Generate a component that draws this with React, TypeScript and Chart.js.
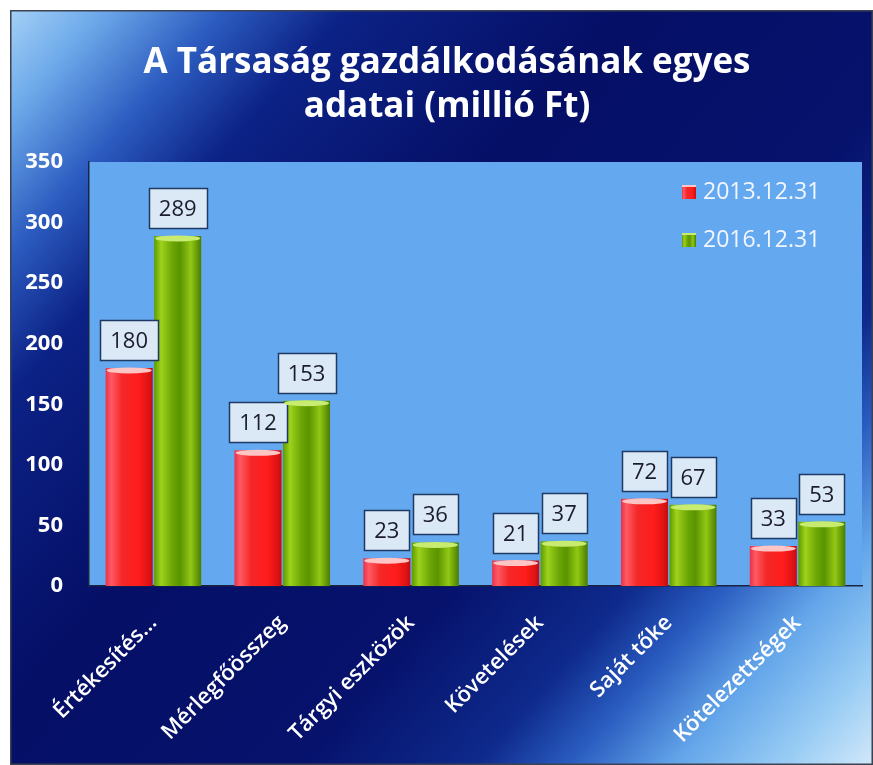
import React, { useEffect, useRef } from 'react';
import { Chart, registerables } from 'chart.js';

Chart.register(...registerables);

const categories = ['Értékesítés...', 'Mérlegfőösszeg', 'Tárgyi eszközök', 'Követelések', 'Saját tőke', 'Kötelezettségek'];
const series2013 = [180, 112, 23, 21, 72, 33];
const series2016 = [289, 153, 36, 37, 67, 53];
const seriesLabels = ['2013.12.31', '2016.12.31'];
const yTicks = [0, 50, 100, 150, 200, 250, 300, 350];
const titleLines = ['A Társaság gazdálkodásának egyes', 'adatai (millió Ft)'];

const W = 863;
const H = 755;
const FONT = '"Open Sans", "DejaVu Sans", sans-serif';

const redStops: [number, string][] = [
  [0, '#e8304a'], [0.12, '#ff5a64'], [0.35, '#f42828'], [0.7, '#ff1c1c'], [0.9, '#e01414'], [1, '#c40a14'],
];
const greenStops: [number, string][] = [
  [0, '#5e9a00'], [0.15, '#9ed21c'], [0.4, '#6aa404'], [0.55, '#5a9400'], [0.78, '#92c814'], [1, '#4a7c00'],
];
const capColors = ['#ffc4c4', '#c8ec70'];

const bgPlugin = {
  id: 'bgPlugin',
  afterLayout(chart: any) {
    const t = chart.titleBlock;
    if (t) {
      t.left += 11;
      t.right += 11;
    }
  },
  beforeDraw(chart: any) {
    const { ctx, width, height, chartArea } = chart;
    ctx.save();
    const g = ctx.createLinearGradient(0, 0, width, height);
    g.addColorStop(0, '#a4d0f6');
    g.addColorStop(0.06, '#6eaaea');
    g.addColorStop(0.14, '#2c5cc0');
    g.addColorStop(0.22, '#0c2286');
    g.addColorStop(0.4, '#050f66');
    g.addColorStop(0.62, '#06126c');
    g.addColorStop(0.74, '#0e2a8c');
    g.addColorStop(0.8, '#2a5cc0');
    g.addColorStop(0.87, '#64a6ea');
    g.addColorStop(0.94, '#98ccf4');
    g.addColorStop(1, '#d2e8fa');
    ctx.fillStyle = g;
    ctx.fillRect(0, 0, width, height);
    ctx.fillStyle = '#64a8f0';
    ctx.fillRect(chartArea.left, chartArea.top, chartArea.right - chartArea.left, chartArea.bottom - chartArea.top);
    ctx.restore();
  },
  beforeDatasetsDraw(chart: any) {
    const ctx = chart.ctx;
    chart.data.datasets.forEach((_ds: any, di: number) => {
      const meta = chart.getDatasetMeta(di);
      const stops = di === 0 ? redStops : greenStops;
      meta.data.forEach((el: any) => {
        const w = el.width;
        const x0 = el.x - w / 2;
        const g = ctx.createLinearGradient(x0, 0, x0 + w, 0);
        stops.forEach(([o, c]) => g.addColorStop(o, c));
        el.options = Object.assign({}, el.options, { backgroundColor: g });
      });
    });
  },
  afterDatasetsDraw(chart: any) {
    const ctx = chart.ctx;
    ctx.save();
    chart.data.datasets.forEach((ds: any, di: number) => {
      const meta = chart.getDatasetMeta(di);
      meta.data.forEach((el: any, i: number) => {
        const w = el.width;
        const x = el.x;
        const y = el.y;
        // cylinder cap
        ctx.beginPath();
        ctx.ellipse(x, y + 2.5, w / 2 - 1, 3, 0, 0, Math.PI * 2);
        ctx.fillStyle = capColors[di];
        ctx.fill();
        // data label box
        const text = String(ds.data[i]);
        ctx.font = `22px ${FONT}`;
        const tw = ctx.measureText(text).width;
        const bw = Math.round(tw + 20);
        const bh = 40;
        const bx = Math.round(x - bw / 2) + 0.5;
        const by = Math.round(y - 8 - bh) + 0.5;
        ctx.fillStyle = '#dbe8f6';
        ctx.fillRect(bx, by, bw, bh);
        ctx.lineWidth = 1.5;
        ctx.strokeStyle = '#1f3a62';
        ctx.strokeRect(bx, by, bw, bh);
        ctx.fillStyle = '#1a1c2e';
        ctx.textAlign = 'center';
        ctx.textBaseline = 'middle';
        ctx.fillText(text, x, by + bh / 2 + 1);
      });
    });
    ctx.restore();
  },
  afterDraw(chart: any) {
    const { ctx, chartArea, width, height } = chart;
    ctx.save();
    seriesLabels.forEach((lab, i) => {
      const cy = chartArea.top + 30 + i * 48;
      const mx = chartArea.right - 180;
      const mw = 14;
      const mh = 14;
      const stops = i === 0 ? redStops : greenStops;
      const g = ctx.createLinearGradient(mx, 0, mx + mw, 0);
      stops.forEach(([o, c]) => g.addColorStop(o, c));
      ctx.fillStyle = g;
      ctx.fillRect(mx, cy - mh / 2, mw, mh);
      ctx.fillStyle = capColors[i];
      ctx.fillRect(mx, cy - mh / 2, mw, 2);
      ctx.font = `23px ${FONT}`;
      ctx.fillStyle = '#f2f6ff';
      ctx.textAlign = 'left';
      ctx.textBaseline = 'middle';
      ctx.fillText(lab, chartArea.right - 159, cy);
    });
    ctx.strokeStyle = '#3c4250';
    ctx.lineWidth = 1.5;
    ctx.strokeRect(0.75, 0.75, width - 1.5, height - 1.5);
    ctx.restore();
  },
};

export default function App() {
  const ref = useRef<HTMLCanvasElement | null>(null);
  useEffect(() => {
    if (!ref.current) return;
    const chart = new Chart(ref.current, {
      type: 'bar',
      data: {
        labels: categories,
        datasets: [
          { label: seriesLabels[0], data: series2013, backgroundColor: '#f02020', borderWidth: 0, barPercentage: 0.97, categoryPercentage: 0.753 },
          { label: seriesLabels[1], data: series2016, backgroundColor: '#80c010', borderWidth: 0, barPercentage: 0.97, categoryPercentage: 0.753 },
        ],
      },
      options: {
        animation: false,
        responsive: false,
        devicePixelRatio: 1,
        layout: { padding: { left: 0, right: 11, top: 0, bottom: 0 } },
        plugins: {
          legend: { display: false },
          tooltip: { enabled: false },
          title: {
            display: true,
            text: titleLines,
            color: '#ffffff',
            font: { family: FONT, size: 35, weight: 'bold', lineHeight: 1.26 },
            padding: { top: 30.5, bottom: 33.3 },
          },
        },
        scales: {
          x: {
            grid: { display: false, drawTicks: false },
            border: { display: true, color: '#1b2440', width: 1.5 },
            ticks: {
              color: '#ffffff',
              font: { family: FONT, size: 22, weight: '600' },
              minRotation: 45,
              maxRotation: 45,
              autoSkip: false,
              padding: 24,
            },
            afterFit: (s: any) => { s.height = 179; },
          },
          y: {
            min: 0,
            max: 350,
            grid: { display: false, drawTicks: false },
            border: { display: true, color: '#1b2440', width: 1.5 },
            ticks: {
              color: '#ffffff',
              font: { family: FONT, size: 22, weight: 'bold' },
              padding: 26,
            },
            afterBuildTicks: (s: any) => { s.ticks = yTicks.map((v) => ({ value: v })); },
            afterFit: (s: any) => { s.width = 79; },
          },
        },
      },
      plugins: [bgPlugin],
    });
    return () => chart.destroy();
  }, []);
  return (
    <div style={{ position: 'fixed', left: 10, top: 10, width: W, height: H }}>
      <canvas ref={ref} width={W} height={H} style={{ width: W, height: H, display: 'block' }} />
    </div>
  );
}
